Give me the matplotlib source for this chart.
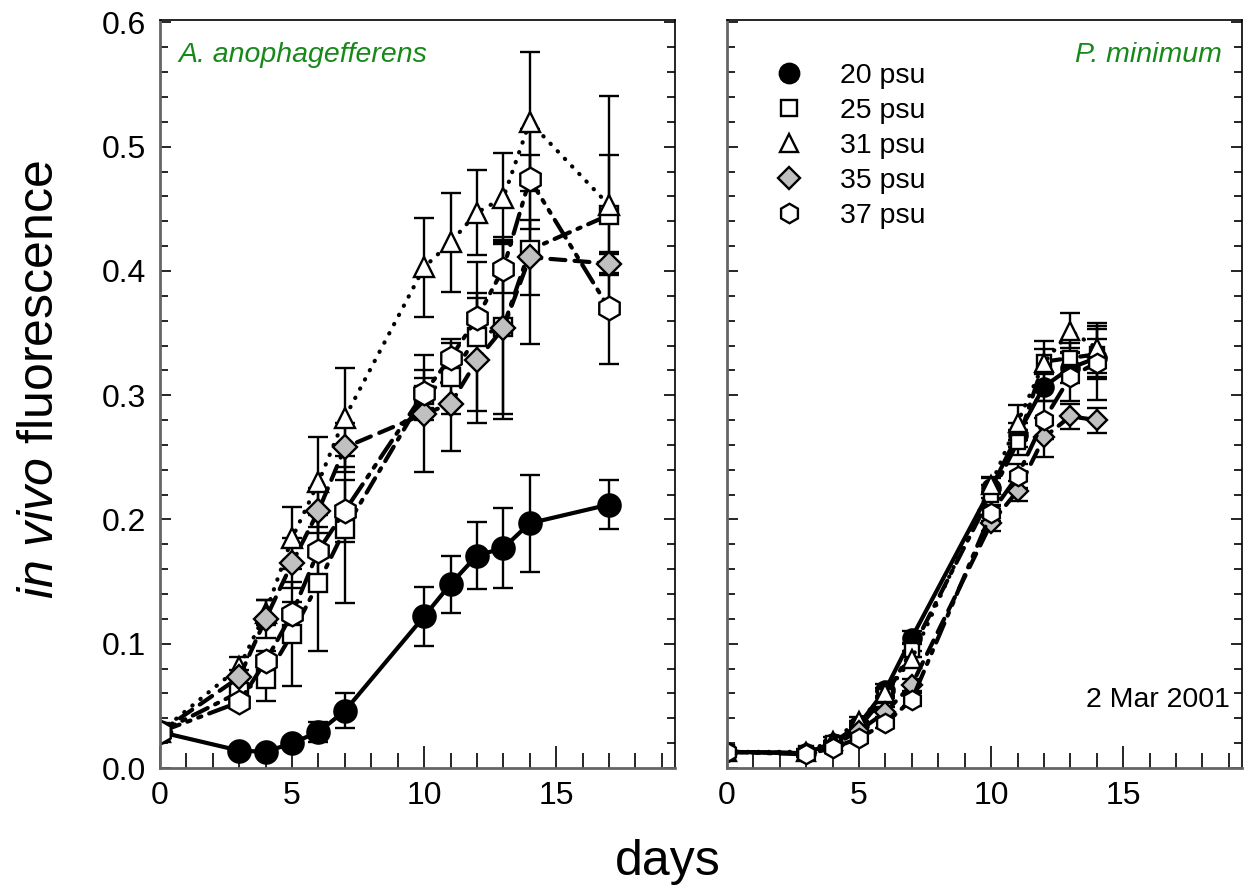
import matplotlib
matplotlib.use("Agg")
import matplotlib.pyplot as plt
from matplotlib.lines import Line2D
from matplotlib.ticker import MultipleLocator

plt.rcParams['font.family'] = ['Liberation Sans', 'DejaVu Sans']
plt.rcParams['mathtext.fontset'] = 'custom'
plt.rcParams['mathtext.rm'] = 'Liberation Sans'
plt.rcParams['mathtext.it'] = 'Liberation Sans:italic'

# ---------------- data ----------------
labels = ['20 psu', '25 psu', '31 psu', '35 psu', '37 psu']

days_a = [0, 3, 4, 5, 6, 7, 10, 11, 12, 13, 14, 17]
a20 = [0.029, 0.014, 0.013, 0.020, 0.029, 0.046, 0.122, 0.148, 0.171, 0.177, 0.197, 0.212]
a20e = [0.003, 0.002, 0.002, 0.004, 0.008, 0.014, 0.024, 0.023, 0.027, 0.032, 0.039, 0.020]
a25 = [0.029, 0.061, 0.072, 0.108, 0.149, 0.192, 0.300, 0.315, 0.347, 0.355, 0.417, 0.445]
a25e = [0.003, 0.006, 0.018, 0.042, 0.055, 0.059, 0.020, 0.030, 0.060, 0.070, 0.076, 0.048]
a31 = [0.029, 0.081, 0.125, 0.185, 0.230, 0.282, 0.403, 0.423, 0.447, 0.459, 0.520, 0.453]
a31e = [0.003, 0.008, 0.010, 0.025, 0.036, 0.040, 0.040, 0.040, 0.034, 0.036, 0.056, 0.088]
a35 = [0.029, 0.073, 0.120, 0.165, 0.207, 0.258, 0.285, 0.293, 0.328, 0.354, 0.411, 0.406]
a35e = [0.003, 0.006, 0.015, 0.020, 0.018, 0.020, 0.047, 0.038, 0.050, 0.073, 0.030, 0.008]
a37 = [0.029, 0.053, 0.086, 0.124, 0.175, 0.207, 0.302, 0.330, 0.362, 0.402, 0.474, 0.370]
a37e = [0.003, 0.005, 0.008, 0.010, 0.030, 0.025, 0.012, 0.012, 0.020, 0.020, 0.040, 0.045]

days_p = [0, 3, 4, 5, 6, 7, 10, 11, 12, 13, 14]
p20 = [0.013, 0.012, 0.020, 0.035, 0.063, 0.105, 0.225, 0.268, 0.307, 0.322, 0.330]
p20e = [0.002, 0.002, 0.002, 0.003, 0.005, 0.005, 0.008, 0.010, 0.012, 0.012, 0.015]
p25 = [0.013, 0.012, 0.020, 0.033, 0.058, 0.095, 0.220, 0.262, 0.327, 0.330, 0.333]
p25e = [0.002, 0.002, 0.002, 0.003, 0.004, 0.006, 0.008, 0.010, 0.010, 0.012, 0.020]
p31 = [0.013, 0.013, 0.022, 0.038, 0.060, 0.088, 0.228, 0.278, 0.326, 0.352, 0.338]
p31e = [0.002, 0.002, 0.003, 0.003, 0.004, 0.006, 0.006, 0.014, 0.018, 0.014, 0.020]
p35 = [0.013, 0.012, 0.018, 0.030, 0.045, 0.067, 0.197, 0.223, 0.266, 0.283, 0.280]
p35e = [0.002, 0.002, 0.002, 0.003, 0.004, 0.005, 0.006, 0.008, 0.016, 0.010, 0.010]
p37 = [0.013, 0.011, 0.016, 0.024, 0.036, 0.055, 0.205, 0.235, 0.280, 0.315, 0.326]
p37e = [0.002, 0.002, 0.002, 0.003, 0.004, 0.005, 0.006, 0.010, 0.015, 0.020, 0.030]

xticks = [0, 5, 10, 15]
yticks = [0.0, 0.1, 0.2, 0.3, 0.4, 0.5, 0.6]

# ---------------- styles ----------------
styles = [
    dict(marker='o', mfc='black', ms=16, ls='-', lw=3.0),
    dict(marker='s', mfc='white', ms=13, ls=(0, (4.0, 2.0, 0.8, 2.0)), lw=3.0),
    dict(marker='^', mfc='white', ms=15, ls=(0, (0.1, 2.4)), lw=3.0),
    dict(marker='D', mfc='#c0c0c0', ms=12.5, ls=(0, (3.6, 2.2)), lw=3.0),
    dict(marker='h', mfc='white', ms=17, ls=(0, (5.0, 2.0, 0.8, 2.0, 0.8, 2.0)), lw=3.0),
]

green = '#17891a'

fig = plt.figure(figsize=(12.52, 8.90), dpi=100)
W, H = 1252.0, 890.0
axL = fig.add_axes([160 / W, 1 - 768 / H, 515 / W, 748 / H])
axR = fig.add_axes([727 / W, 1 - 768 / H, 515 / W, 748 / H])


def draw(ax, days, series, errs, scale):
    for st, y, e in zip(styles, series, errs):
        ax.errorbar(days, y, yerr=e, color='black', marker=st['marker'],
                    mfc=st['mfc'], mec='black', mew=1.7, ms=st['ms'] * scale,
                    ls=st['ls'], lw=st['lw'], elinewidth=1.7, capsize=7,
                    capthick=1.7, dash_capstyle='round', solid_capstyle='round',
                    ecolor='black')


draw(axL, days_a, [a20, a25, a31, a35, a37], [a20e, a25e, a31e, a35e, a37e], 1.0)
draw(axR, days_p, [p20, p25, p31, p35, p37], [p20e, p25e, p31e, p35e, p37e], 0.82)

for ax in (axL, axR):
    ax.set_xlim(0, 19.5)
    ax.set_ylim(0, 0.602)
    ax.set_xticks(xticks)
    ax.xaxis.set_minor_locator(MultipleLocator(1))
    ax.set_yticks(yticks)
    ax.yaxis.set_minor_locator(MultipleLocator(0.02))
    ax.tick_params(axis='x', which='major', direction='in', length=16, width=1.2,
                   labelsize=23, pad=9, top=False)
    ax.tick_params(axis='x', which='minor', direction='in', length=11, width=1.2, top=False)
    ax.tick_params(axis='y', which='major', direction='in', length=8, width=1.2,
                   labelsize=23, pad=10, right=True)
    ax.tick_params(axis='y', which='minor', direction='in', length=5.5, width=1.2, right=True)
    for s in ('left', 'bottom'):
        ax.spines[s].set_color('#666666')
        ax.spines[s].set_linewidth(2.0)
    for s in ('right', 'top'):
        ax.spines[s].set_color('black')
        ax.spines[s].set_linewidth(1.2)

axL.set_yticklabels(['0.0', '0.1', '0.2', '0.3', '0.4', '0.5', '0.6'])
axR.tick_params(axis='y', labelleft=False)

axL.text(0.035, 0.953, 'A. anophagefferens', transform=axL.transAxes, color=green,
         fontsize=20.5, style='italic', ha='left', va='center')
axR.text(0.961, 0.953, 'P. minimum', transform=axR.transAxes, color=green,
         fontsize=20.5, style='italic', ha='right', va='center')
axR.text(0.977, 0.091, '2 Mar 2001', transform=axR.transAxes, color='black',
         fontsize=20.5, ha='right', va='center')

handles = []
leg_ms = [14, 11.5, 13.5, 11.5, 14]
for st, m in zip(styles, leg_ms):
    handles.append(Line2D([], [], color='black', marker=st['marker'], mfc=st['mfc'],
                          mec='black', mew=1.7, ms=m, ls='none'))
axR.legend(handles, labels, loc='upper left', bbox_to_anchor=(0.07, 0.958),
           frameon=False, fontsize=20.5, handlelength=1.0, handletextpad=1.3,
           labelspacing=0.32, borderaxespad=0.0)

fig.text(40 / W, 1 - 380 / H, r'$\it{in\ vivo}$ fluorescence', rotation=90,
         fontsize=36, ha='center', va='center')
fig.text(668 / W, 1 - 862 / H, 'days', fontsize=36, ha='center', va='center')

fig.savefig('out.png', dpi=100)
